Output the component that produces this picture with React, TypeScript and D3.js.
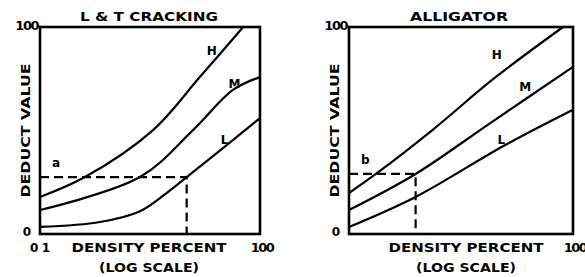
import React from "react";
import * as d3 from "d3";

// ---- data (density percent, deduct value) ----
const ltH: [number, number][] = [[0.1, 17.9], [0.41, 27.5], [3.48, 50.2], [15.1, 75.8], [59, 100]];
const ltM: [number, number][] = [[0.1, 11.6], [2.31, 27.5], [12.2, 50.2], [42.7, 69.6], [100, 75.8]];
const ltL: [number, number][] = [[0.1, 3.4], [0.66, 5.8], [2.31, 11], [5.2, 19.5], [10, 27.5], [42.7, 45.4], [100, 56]];
const alH: [number, number][] = [[0.1, 19.8], [0.229, 29], [1.36, 50.7], [8.58, 74.9], [73.6, 100]];
const alM: [number, number][] = [[0.1, 11.6], [0.78, 29], [7.8, 53.6], [100, 80.7]];
const alL: [number, number][] = [[0.1, 3.4], [0.78, 17.9], [11.7, 42.5], [100, 60]];
const ltRead = { x: 10, y: 27.5, label: "a" };
const alRead = { x: 0.78, y: 29, label: "b" };
const severity = ["H", "M", "L"];
const ltLabelPos: [number, number][] = [[22, 88], [45, 72], [33, 45]];
const alLabelPos: [number, number][] = [[9.5, 86], [23, 71], [11, 45]];

const FONT = "'DejaVu Sans', sans-serif";

type Props = {
  x0: number; x1: number; y0: number; y1: number;
  title: string; titleLen: number; titleX: number;
  curves: [number, number][][];
  labelPos: [number, number][];
  read: { x: number; y: number; label: string };
  showLeftTick: boolean;
  xTitleX: number;
};

function Panel(p: Props) {
  const x = d3.scaleLog().domain([0.1, 100]).range([p.x0, p.x1]);
  const y = d3.scaleLinear().domain([0, 100]).range([p.y1, p.y0]);
  const line = d3.line<[number, number]>().x(d => x(d[0])).y(d => y(d[1])).curve(d3.curveCatmullRom.alpha(0.5));
  return (
    <g fontFamily={FONT} fontWeight="bold" fill="#000">
      <text x={p.titleX} y={21} textAnchor="middle" fontSize={13} textLength={p.titleLen} lengthAdjust="spacingAndGlyphs">{p.title}</text>
      {p.curves.map((c, i) => (
        <path key={i} d={line(c) || ""} fill="none" stroke="#000" strokeWidth={2.2} />
      ))}
      <path d={`M${x(0.1)},${y(p.read.y)}H${x(p.read.x)}V${y(0)}`} fill="none" stroke="#000" strokeWidth={2.2} strokeDasharray="9,5" />
      <text x={x(0.1) + 12} y={y(p.read.y) - 10} fontSize={12}>{p.read.label}</text>
      {p.labelPos.map((lp, i) => (
        <text key={i} x={x(lp[0])} y={y(lp[1])} textAnchor="middle" dominantBaseline="middle" fontSize={12}>{severity[i]}</text>
      ))}
      <rect x={p.x0} y={p.y0} width={p.x1 - p.x0} height={p.y1 - p.y0} fill="none" stroke="#000" strokeWidth={2.6} />
      <text x={p.x0 - 2} y={y(100) + 3} textAnchor="end" fontSize={13} letterSpacing={-1.5}>100</text>
      <text x={p.x0 - 9} y={y(0) + 2} textAnchor="end" fontSize={12}>0</text>
      <text transform={`translate(${p.x0 - 10},${(p.y0 + p.y1) / 2}) rotate(-90)`} textAnchor="middle" fontSize={12} textLength={134} lengthAdjust="spacingAndGlyphs">DEDUCT VALUE</text>
      {p.showLeftTick && <text x={x(0.1)} y={252} textAnchor="middle" fontSize={12} textLength={20} lengthAdjust="spacing">0 1</text>}
      <text x={x(100) + 2} y={252} textAnchor="middle" fontSize={13} letterSpacing={-1.5}>100</text>
      <text x={p.xTitleX} y={252} textAnchor="middle" fontSize={12} textLength={155} lengthAdjust="spacingAndGlyphs">DENSITY PERCENT</text>
      <text x={p.xTitleX} y={272} textAnchor="middle" fontSize={12} textLength={100} lengthAdjust="spacingAndGlyphs">(LOG SCALE)</text>
    </g>
  );
}

export default function App() {
  return (
    <svg width={585} height={277} style={{ position: "absolute", left: 0, top: 0, background: "#fff" }}>
      <rect width={585} height={277} fill="#fff" />
      <Panel x0={40} x1={260} y0={27} y1={234} title="L & T CRACKING" titleLen={138} titleX={149}
        curves={[ltH, ltM, ltL]} labelPos={ltLabelPos} read={ltRead} showLeftTick={true} xTitleX={149} />
      <Panel x0={349} x1={573} y0={27} y1={234} title="ALLIGATOR" titleLen={98} titleX={459}
        curves={[alH, alM, alL]} labelPos={alLabelPos} read={alRead} showLeftTick={false} xTitleX={466} />
    </svg>
  );
}
